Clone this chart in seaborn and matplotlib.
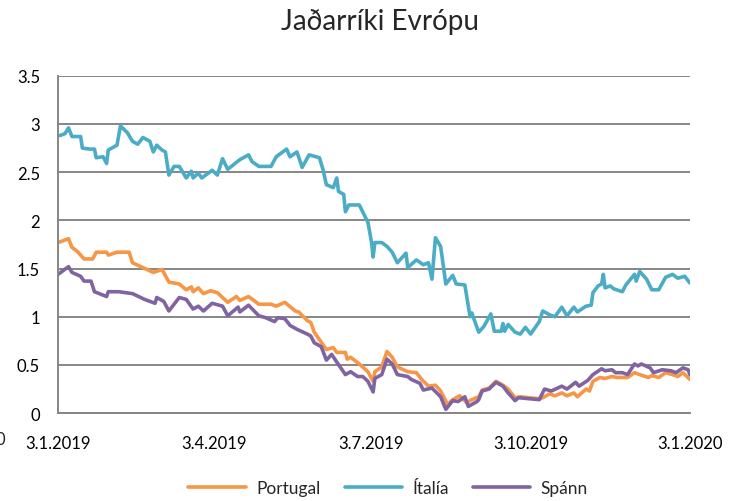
import pandas as pd
import matplotlib.pyplot as plt
import seaborn as sns

# Ávöxtunarkrafa 10 ára ríkisskuldabréfa, lesið af mynd
ita_dates = ["2019-01-04", "2019-01-07", "2019-01-09", "2019-01-11", "2019-01-16", "2019-01-17",
             "2019-01-21", "2019-01-24", "2019-01-25", "2019-01-29", "2019-01-31", "2019-02-01",
             "2019-02-06", "2019-02-08", "2019-02-12", "2019-02-15", "2019-02-18", "2019-02-21",
             "2019-02-25", "2019-02-27", "2019-03-01", "2019-03-04", "2019-03-06", "2019-03-08",
             "2019-03-11", "2019-03-14", "2019-03-18", "2019-03-21", "2019-03-22", "2019-03-25",
             "2019-03-27", "2019-04-02", "2019-04-05", "2019-04-08", "2019-04-11", "2019-04-18",
             "2019-04-23", "2019-04-25", "2019-04-29", "2019-05-06", "2019-05-09", "2019-05-15",
             "2019-05-17", "2019-05-21", "2019-05-24", "2019-05-28", "2019-06-03", "2019-06-05",
             "2019-06-07", "2019-06-11", "2019-06-13", "2019-06-14", "2019-06-17", "2019-06-18",
             "2019-06-20", "2019-06-26", "2019-07-01", "2019-07-03", "2019-07-04", "2019-07-05",
             "2019-07-09", "2019-07-12", "2019-07-15", "2019-07-18", "2019-07-23", "2019-07-24",
             "2019-07-29", "2019-08-02", "2019-08-05", "2019-08-07", "2019-08-09", "2019-08-12",
             "2019-08-15", "2019-08-19", "2019-08-21", "2019-08-26", "2019-08-29", "2019-08-30",
             "2019-09-03", "2019-09-06", "2019-09-10", "2019-09-12", "2019-09-16", "2019-09-17",
             "2019-09-18", "2019-09-20", "2019-09-24", "2019-09-27", "2019-09-30", "2019-10-03",
             "2019-10-08", "2019-10-10", "2019-10-14", "2019-10-17", "2019-10-21", "2019-10-24",
             "2019-10-28", "2019-10-30", "2019-11-04", "2019-11-07", "2019-11-08", "2019-11-11",
             "2019-11-13", "2019-11-14", "2019-11-15", "2019-11-18", "2019-11-20", "2019-11-25",
             "2019-11-27", "2019-12-02", "2019-12-03", "2019-12-05", "2019-12-09", "2019-12-12",
             "2019-12-16", "2019-12-20", "2019-12-24", "2019-12-27", "2019-12-31", "2020-01-03"]
ita_vals = [2.88, 2.90, 2.96, 2.87, 2.87, 2.75, 2.74, 2.74, 2.65, 2.66, 2.59, 2.73,
            2.78, 2.98, 2.91, 2.82, 2.79, 2.86, 2.82, 2.71, 2.78, 2.73, 2.71, 2.47,
            2.56, 2.56, 2.44, 2.51, 2.44, 2.49, 2.44, 2.52, 2.47, 2.64, 2.53, 2.63,
            2.68, 2.61, 2.56, 2.56, 2.66, 2.74, 2.66, 2.71, 2.55, 2.68, 2.65, 2.53,
            2.37, 2.34, 2.44, 2.30, 2.27, 2.09, 2.16, 2.16, 1.98, 1.78, 1.62, 1.77,
            1.77, 1.73, 1.67, 1.56, 1.66, 1.51, 1.59, 1.54, 1.56, 1.39, 1.82, 1.73,
            1.34, 1.43, 1.34, 1.33, 1.00, 1.04, 0.84, 0.90, 1.03, 0.85, 0.85, 0.93,
            0.85, 0.92, 0.84, 0.82, 0.89, 0.82, 0.95, 1.06, 1.02, 1.00, 1.10, 1.01,
            1.10, 1.05, 1.11, 1.12, 1.25, 1.32, 1.34, 1.44, 1.30, 1.32, 1.29, 1.26,
            1.33, 1.44, 1.37, 1.47, 1.39, 1.28, 1.28, 1.41, 1.44, 1.40, 1.42, 1.35]

por_dates = ["2019-01-03", "2019-01-09", "2019-01-11", "2019-01-14", "2019-01-18", "2019-01-23",
             "2019-01-25", "2019-01-31", "2019-02-01", "2019-02-06", "2019-02-13", "2019-02-15",
             "2019-02-21", "2019-02-27", "2019-03-04", "2019-03-05", "2019-03-08", "2019-03-14",
             "2019-03-18", "2019-03-21", "2019-03-22", "2019-03-25", "2019-03-28", "2019-04-01",
             "2019-04-05", "2019-04-11", "2019-04-16", "2019-04-18", "2019-04-23", "2019-04-29",
             "2019-05-06", "2019-05-09", "2019-05-14", "2019-05-20", "2019-05-22", "2019-05-27",
             "2019-05-29", "2019-05-31", "2019-06-05", "2019-06-07", "2019-06-11", "2019-06-13",
             "2019-06-18", "2019-06-19", "2019-06-21", "2019-06-26", "2019-07-01", "2019-07-04",
             "2019-07-05", "2019-07-09", "2019-07-12", "2019-07-15", "2019-07-18", "2019-07-24",
             "2019-07-29", "2019-08-01", "2019-08-05", "2019-08-09", "2019-08-12", "2019-08-16",
             "2019-08-19", "2019-08-23", "2019-08-27", "2019-08-30", "2019-09-03", "2019-09-05",
             "2019-09-09", "2019-09-13", "2019-09-17", "2019-09-20", "2019-09-24", "2019-09-27",
             "2019-10-02", "2019-10-08", "2019-10-10", "2019-10-14", "2019-10-17", "2019-10-21",
             "2019-10-24", "2019-10-28", "2019-10-30", "2019-11-04", "2019-11-06", "2019-11-08",
             "2019-11-12", "2019-11-15", "2019-11-19", "2019-11-22", "2019-11-28", "2019-12-02",
             "2019-12-05", "2019-12-10", "2019-12-12", "2019-12-16", "2019-12-20", "2019-12-24",
             "2019-12-27", "2019-12-30", "2020-01-03"]
por_vals = [1.77, 1.81, 1.72, 1.68, 1.60, 1.60, 1.67, 1.67, 1.64, 1.67, 1.67, 1.56,
            1.51, 1.46, 1.49, 1.46, 1.36, 1.34, 1.28, 1.31, 1.26, 1.30, 1.24, 1.27,
            1.25, 1.15, 1.21, 1.17, 1.21, 1.13, 1.13, 1.11, 1.15, 1.06, 1.05, 0.96,
            0.94, 0.84, 0.71, 0.66, 0.68, 0.63, 0.63, 0.56, 0.58, 0.51, 0.43, 0.33,
            0.43, 0.48, 0.64, 0.58, 0.48, 0.43, 0.42, 0.35, 0.28, 0.29, 0.23, 0.09,
            0.14, 0.18, 0.11, 0.14, 0.17, 0.24, 0.26, 0.33, 0.29, 0.25, 0.16, 0.17,
            0.16, 0.15, 0.16, 0.20, 0.18, 0.21, 0.18, 0.21, 0.17, 0.25, 0.23, 0.33,
            0.37, 0.36, 0.38, 0.37, 0.37, 0.42, 0.40, 0.37, 0.39, 0.37, 0.42, 0.40,
            0.38, 0.42, 0.35]

spa_dates = ["2019-01-03", "2019-01-09", "2019-01-11", "2019-01-16", "2019-01-18", "2019-01-22",
             "2019-01-24", "2019-01-31", "2019-02-01", "2019-02-07", "2019-02-15", "2019-02-22",
             "2019-02-28", "2019-03-01", "2019-03-05", "2019-03-08", "2019-03-14", "2019-03-18",
             "2019-03-22", "2019-03-25", "2019-03-28", "2019-04-02", "2019-04-08", "2019-04-11",
             "2019-04-15", "2019-04-17", "2019-04-18", "2019-04-23", "2019-04-29", "2019-05-03",
             "2019-05-08", "2019-05-10", "2019-05-14", "2019-05-17", "2019-05-21", "2019-05-27",
             "2019-05-29", "2019-05-31", "2019-06-04", "2019-06-07", "2019-06-10", "2019-06-13",
             "2019-06-18", "2019-06-21", "2019-06-25", "2019-06-28", "2019-07-01", "2019-07-04",
             "2019-07-05", "2019-07-09", "2019-07-12", "2019-07-15", "2019-07-18", "2019-07-24",
             "2019-07-26", "2019-07-31", "2019-08-02", "2019-08-07", "2019-08-12", "2019-08-15",
             "2019-08-19", "2019-08-22", "2019-08-26", "2019-08-28", "2019-09-02", "2019-09-03",
             "2019-09-05", "2019-09-09", "2019-09-13", "2019-09-17", "2019-09-20", "2019-09-24",
             "2019-09-26", "2019-10-02", "2019-10-08", "2019-10-11", "2019-10-15", "2019-10-21",
             "2019-10-24", "2019-10-29", "2019-10-31", "2019-11-05", "2019-11-08", "2019-11-13",
             "2019-11-15", "2019-11-19", "2019-11-21", "2019-11-25", "2019-11-28", "2019-12-02",
             "2019-12-04", "2019-12-06", "2019-12-11", "2019-12-13", "2019-12-18", "2019-12-23",
             "2019-12-26", "2019-12-30", "2020-01-02", "2020-01-03"]
spa_vals = [1.44, 1.52, 1.46, 1.42, 1.37, 1.37, 1.26, 1.21, 1.26, 1.26, 1.24, 1.18,
            1.14, 1.20, 1.16, 1.06, 1.20, 1.18, 1.08, 1.11, 1.06, 1.14, 1.11, 1.01,
            1.07, 1.10, 1.05, 1.12, 1.01, 0.99, 0.95, 0.99, 0.98, 0.91, 0.87, 0.82,
            0.80, 0.73, 0.69, 0.55, 0.61, 0.53, 0.40, 0.43, 0.38, 0.38, 0.33, 0.22,
            0.36, 0.40, 0.56, 0.51, 0.40, 0.38, 0.35, 0.31, 0.24, 0.26, 0.17, 0.04,
            0.13, 0.12, 0.17, 0.07, 0.12, 0.14, 0.23, 0.25, 0.32, 0.28, 0.21, 0.13,
            0.16, 0.15, 0.14, 0.25, 0.23, 0.28, 0.25, 0.32, 0.28, 0.34, 0.40, 0.46,
            0.44, 0.45, 0.42, 0.42, 0.40, 0.51, 0.49, 0.51, 0.47, 0.42, 0.45, 0.44,
            0.42, 0.47, 0.45, 0.40]

countries = ["Portugal", "Ítalía", "Spánn"]
colors = ["#F79646", "#4BACC6", "#8064A2"]
tick_dates = ["2019-01-03", "2019-04-03", "2019-07-03", "2019-10-03", "2020-01-03"]
tick_labels = ["3.1.2019", "3.4.2019", "3.7.2019", "3.10.2019", "3.1.2020"]

#%%
df = pd.concat([
    pd.DataFrame({"dags": por_dates, "gildi": por_vals, "land": "Portugal"}),
    pd.DataFrame({"dags": ita_dates, "gildi": ita_vals, "land": "Ítalía"}),
    pd.DataFrame({"dags": spa_dates, "gildi": spa_vals, "land": "Spánn"}),
])
df["dags"] = pd.to_datetime(df["dags"])

#%%
sns.set_style("white")
plt.rcParams["font.family"] = ["Lato", "DejaVu Sans"]

fig = plt.figure(figsize=(7.45, 5.02), dpi=100)
ax = fig.add_axes([0.078, 0.175, 0.848, 0.672])

sns.lineplot(data=df, x="dags", y="gildi", hue="land", hue_order=countries,
             palette=colors, linewidth=2.6, estimator=None, ax=ax)

ax.set_xlim(pd.Timestamp("2019-01-03"), pd.Timestamp("2020-01-03"))
ax.set_ylim(0, 3.5)
ax.set_yticks([0, 0.5, 1, 1.5, 2, 2.5, 3, 3.5])
ax.set_yticklabels(["0", "0.5", "1", "1.5", "2", "2.5", "3", "3.5"])
ax.set_xticks(pd.to_datetime(tick_dates))
ax.set_xticklabels(tick_labels)
ax.yaxis.grid(True, color="#868686", linewidth=1.4)
ax.set_axisbelow(True)
ax.tick_params(axis="both", direction="out", length=5, width=1.2, color="#868686",
               labelsize=12, labelcolor="black")
ax.tick_params(axis="x", pad=11)
ax.tick_params(axis="y", pad=8)
for s in ["top", "right"]:
    ax.spines[s].set_visible(False)
for s in ["left", "bottom"]:
    ax.spines[s].set_color("#868686")
    ax.spines[s].set_linewidth(1.4)
ax.set_xlabel("")
ax.set_ylabel("")

ax.set_title("Jaðarríki Evrópu", fontsize=20, pad=34, x=0.51)
ax.legend(loc="center", bbox_to_anchor=(0.521, 0.026), bbox_transform=fig.transFigure,
          ncol=3, frameon=False, fontsize=12.5, handlelength=3.3, handletextpad=0.6,
          columnspacing=1.4)

fig.text(0.0, 0.123, "0", fontsize=12, ha="center", va="center")

plt.savefig("out.png", dpi=100)
